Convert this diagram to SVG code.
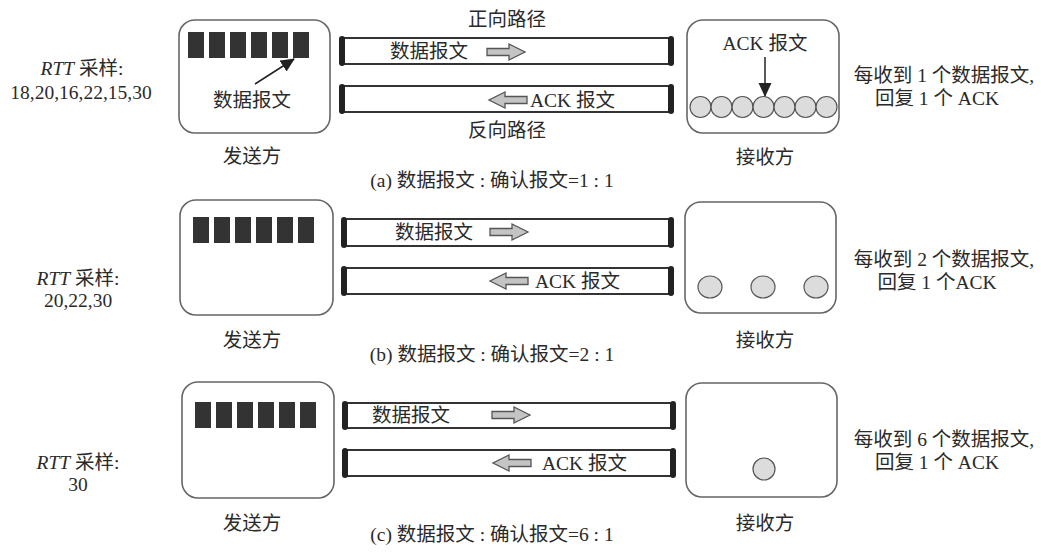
<svg xmlns="http://www.w3.org/2000/svg" width="1041" height="553" viewBox="0 0 1041 553">
<defs>
<style>
text{font-family:"Liberation Serif","Noto Sans CJK SC",serif;font-size:19.5px;fill:#2a2a2a}
.box{fill:#fff;stroke:#666;stroke-width:1.6}
.pkt{fill:#333}
.pipe{fill:#fff;stroke:#333;stroke-width:2}
.cap{fill:#222}
.ba{fill:#c4c4c4;stroke:#555;stroke-width:1.3}
.ack{fill:#dcdcdc;stroke:#555;stroke-width:1.2}
.mid{text-anchor:middle}
.it{font-style:italic}
</style>
<path id="ra" d="M0,-3.5 H22 V-8 L38,0 L22,8 V3.5 H0 Z"/>
<path id="la" d="M38,-3.5 H16 V-8 L0,0 L16,8 V3.5 H38 Z"/>
<g id="pkts">
<rect class="pkt" x="0" y="0" width="16" height="26"/>
<rect class="pkt" x="21" y="0" width="16" height="26"/>
<rect class="pkt" x="42" y="0" width="16" height="26"/>
<rect class="pkt" x="63" y="0" width="16" height="26"/>
<rect class="pkt" x="84" y="0" width="16" height="26"/>
<rect class="pkt" x="105" y="0" width="16" height="26"/>
</g>
<marker id="ah2" markerWidth="14" markerHeight="14" refX="13" refY="7" orient="auto" markerUnits="userSpaceOnUse" viewBox="0 0 14 14">
<path d="M0,0.5 L14,7 L0,13.5 Z" fill="#222"/>
</marker>
</defs>
<rect width="1041" height="553" fill="#fff"/>

<!-- (a) -->
<g id="sender-a">
<rect class="box" x="179" y="20" width="151" height="113" rx="16"/>
<use href="#pkts" x="188" y="32"/>
<text class="mid" x="252" y="107">数据报文</text>
<text class="mid" x="252" y="163">发送方</text>
</g>
<g id="pipes-a">
<rect class="pipe" x="341" y="38" width="331" height="26"/>
<rect class="cap" x="339" y="36" width="6" height="30" rx="3"/>
<rect class="cap" x="668" y="36" width="6" height="30" rx="3"/>
<rect class="pipe" x="341" y="86" width="331" height="26"/>
<rect class="cap" x="339" y="84" width="6" height="30" rx="3"/>
<rect class="cap" x="668" y="84" width="6" height="30" rx="3"/>
<text x="390" y="58">数据报文</text>
<use class="ba" href="#ra" x="487" y="52"/>
<use class="ba" href="#la" x="489" y="100"/>
<text x="530" y="107">ACK 报文</text>
<text class="mid" x="507" y="26">正向路径</text>
<text class="mid" x="507" y="137">反向路径</text>
</g>
<g id="receiver-a">
<rect class="box" x="687" y="20" width="152" height="113" rx="16"/>
<text class="mid" x="765" y="50">ACK 报文</text>
<circle class="ack" cx="700.5" cy="107" r="10.5"/>
<circle class="ack" cx="721.5" cy="107" r="10.5"/>
<circle class="ack" cx="742.5" cy="107" r="10.5"/>
<circle class="ack" cx="763.5" cy="107" r="10.5"/>
<circle class="ack" cx="784.5" cy="107" r="10.5"/>
<circle class="ack" cx="805.5" cy="107" r="10.5"/>
<circle class="ack" cx="826.5" cy="107" r="10.5"/>
<text class="mid" x="765" y="164">接收方</text>
</g>
<g id="labels-a">
<text class="mid" x="82" y="75"><tspan class="it">RTT</tspan> 采样:</text>
<text class="mid" x="81" y="99">18,20,16,22,15,30</text>
<text class="mid" x="944" y="82">每收到 1 个数据报文,</text>
<text class="mid" x="937" y="105">回复 1 个 ACK</text>
<text class="mid" x="492" y="187">(a) 数据报文 : 确认报文=1 : 1</text>
</g>

<!-- (b) -->
<g id="sender-b">
<rect class="box" x="180" y="200" width="153" height="115" rx="16"/>
<use href="#pkts" x="193" y="217"/>
<text class="mid" x="252" y="347">发送方</text>
</g>
<g id="pipes-b">
<rect class="pipe" x="343" y="219" width="329" height="27"/>
<rect class="cap" x="341" y="217" width="6" height="31" rx="3"/>
<rect class="cap" x="668" y="217" width="6" height="31" rx="3"/>
<rect class="pipe" x="343" y="268" width="329" height="26"/>
<rect class="cap" x="341" y="266" width="6" height="30" rx="3"/>
<rect class="cap" x="668" y="266" width="6" height="30" rx="3"/>
<text x="395" y="239">数据报文</text>
<use class="ba" href="#ra" x="490" y="232"/>
<use class="ba" href="#la" x="490" y="281"/>
<text x="535" y="288">ACK 报文</text>
</g>
<g id="receiver-b">
<rect class="box" x="685" y="202" width="151" height="111" rx="16"/>
<ellipse class="ack" cx="710" cy="287" rx="12" ry="11"/>
<ellipse class="ack" cx="763" cy="287" rx="12" ry="11"/>
<ellipse class="ack" cx="816" cy="287" rx="12" ry="11"/>
<text class="mid" x="765" y="347">接收方</text>
</g>
<g id="labels-b">
<text class="mid" x="78" y="285"><tspan class="it">RTT</tspan> 采样:</text>
<text class="mid" x="78" y="307">20,22,30</text>
<text class="mid" x="944" y="266">每收到 2 个数据报文,</text>
<text class="mid" x="937" y="289">回复 1 个ACK</text>
<text class="mid" x="492" y="361">(b) 数据报文 : 确认报文=2 : 1</text>
</g>

<!-- (c) -->
<g id="sender-c">
<rect class="box" x="182" y="382" width="152" height="116" rx="16"/>
<use href="#pkts" x="195" y="402"/>
<text class="mid" x="252" y="530">发送方</text>
</g>
<g id="pipes-c">
<rect class="pipe" x="344" y="403" width="329" height="25"/>
<rect class="cap" x="342" y="401" width="6" height="29" rx="3"/>
<rect class="cap" x="670" y="401" width="6" height="29" rx="3"/>
<rect class="pipe" x="344" y="450" width="329" height="26"/>
<rect class="cap" x="342" y="448" width="6" height="30" rx="3"/>
<rect class="cap" x="670" y="448" width="6" height="30" rx="3"/>
<text x="372" y="422">数据报文</text>
<use class="ba" href="#ra" x="492" y="415"/>
<use class="ba" href="#la" x="493" y="463"/>
<text x="542" y="470">ACK 报文</text>
</g>
<g id="receiver-c">
<rect class="box" x="686" y="383" width="151" height="114" rx="16"/>
<circle class="ack" cx="764" cy="469" r="11"/>
<text class="mid" x="765" y="530">接收方</text>
</g>
<g id="labels-c">
<text class="mid" x="78" y="469"><tspan class="it">RTT</tspan> 采样:</text>
<text class="mid" x="78" y="491">30</text>
<text class="mid" x="944" y="446">每收到 6 个数据报文,</text>
<text class="mid" x="937" y="469">回复 1 个 ACK</text>
<text class="mid" x="492" y="541">(c) 数据报文 : 确认报文=6 : 1</text>
</g>

<g id="connectors">
<line x1="255" y1="84" x2="294" y2="59" stroke="#222" stroke-width="1.5" marker-end="url(#ah2)"/>
<line x1="765" y1="57" x2="765" y2="96" stroke="#222" stroke-width="1.5" marker-end="url(#ah2)"/>
</g>
</svg>
